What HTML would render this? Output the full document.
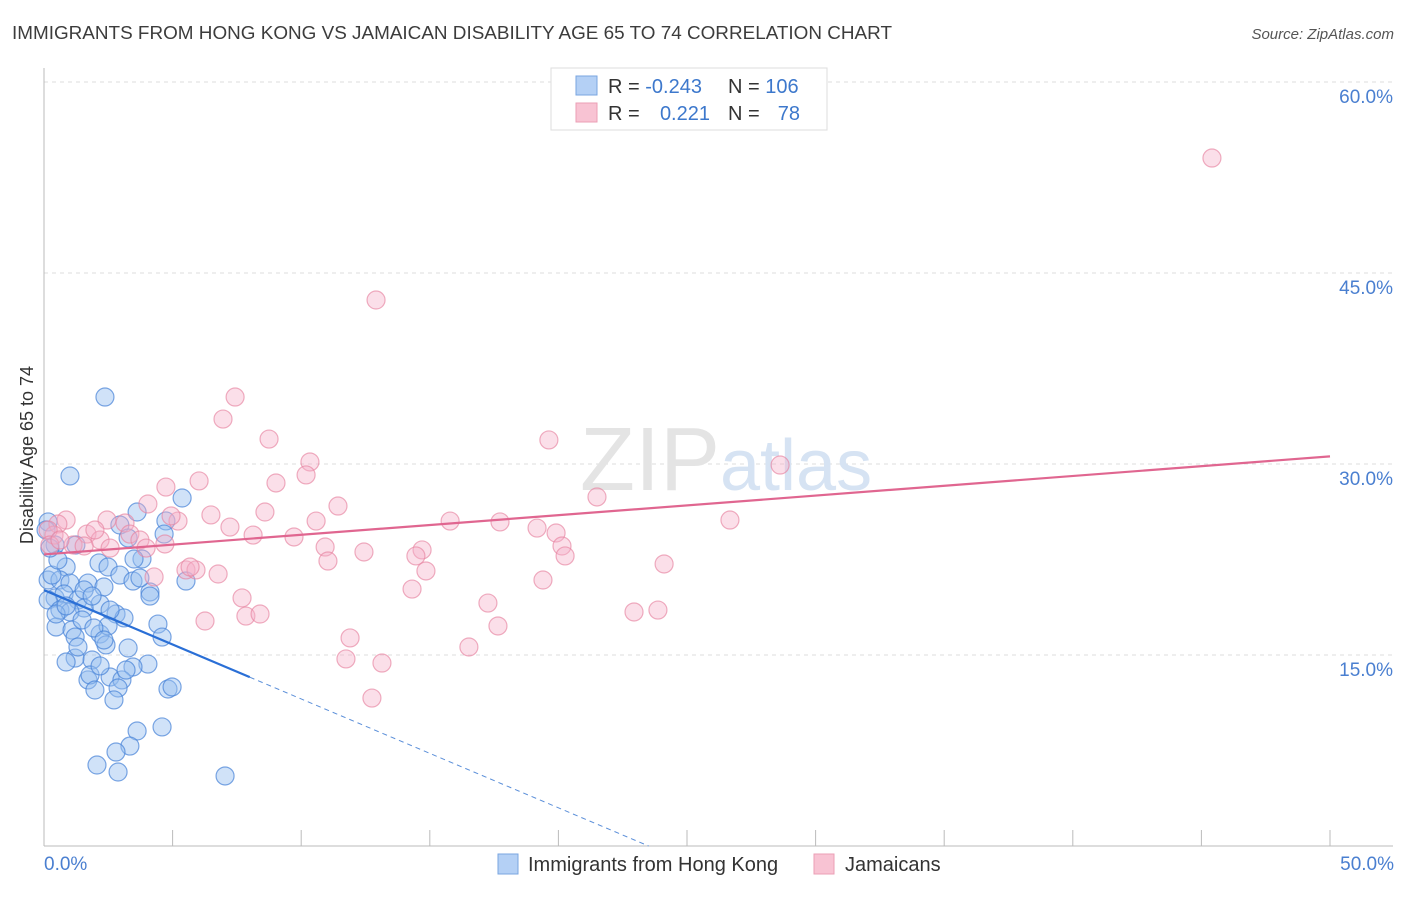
<!DOCTYPE html>
<html><head><meta charset="utf-8"><style>
body{margin:0;background:#fff;font-family:"Liberation Sans",sans-serif;}
svg text{font-family:"Liberation Sans",sans-serif;}
</style></head><body>
<svg width="1406" height="892" viewBox="0 0 1406 892">
<text x="12" y="39" font-size="18" textLength="880" lengthAdjust="spacingAndGlyphs" fill="#3c3c3c">IMMIGRANTS FROM HONG KONG VS JAMAICAN DISABILITY AGE 65 TO 74 CORRELATION CHART</text>
<text x="1394" y="39" font-size="15" fill="#555" font-style="italic" text-anchor="end">Source: ZipAtlas.com</text>
<g id="grid"></g>
<text x="720" y="490" font-size="90" fill="#e4e4e4" text-anchor="end" font-family="Liberation Serif">ZIP</text>
<text x="720" y="490" font-size="72" fill="#d6e3f3">atlas</text>
<g id="marks"></g>
<text transform="translate(33,455) rotate(-90)" font-size="18" fill="#333" text-anchor="middle">Disability Age 65 to 74</text>
<text x="44" y="870" font-size="19" fill="#4a7fd0">0.0%</text>
<text x="1394" y="870" font-size="19" fill="#4a7fd0" text-anchor="end">50.0%</text>
<g>
<rect x="551" y="68" width="276" height="62" fill="#fff" stroke="#ddd"/>
<rect x="576" y="76" width="21" height="19" fill="#b4d0f5" stroke="#7aa6e0"/>
<rect x="576" y="103" width="21" height="19" fill="#f8c3d3" stroke="#eb9fb6"/>
<text x="608" y="93" font-size="20" fill="#333">R = <tspan fill="#3d78cc">-0.243</tspan></text>
<text x="728" y="93" font-size="20" fill="#333">N = <tspan fill="#3d78cc">106</tspan></text>
<text x="608" y="120" font-size="20" fill="#333">R = </text>
<text x="710" y="120" font-size="20" fill="#3d78cc" text-anchor="end">0.221</text>
<text x="728" y="120" font-size="20" fill="#333">N = </text>
<text x="800" y="120" font-size="20" fill="#3d78cc" text-anchor="end">78</text>
</g>
<g>
<rect x="498" y="854" width="20" height="20" fill="#b4d0f5" stroke="#7aa6e0"/>
<text x="528" y="871" font-size="20" fill="#333">Immigrants from Hong Kong</text>
<rect x="814" y="854" width="20" height="20" fill="#f8c3d3" stroke="#eb9fb6"/>
<text x="845" y="871" font-size="20" fill="#333">Jamaicans</text>
</g>
</svg>
<script>
const yTicks=[15,30,45,60];
const yTickLabels=["15.0%","30.0%","45.0%","60.0%"];
const xTicks=[0,5,10,15,20,25,30,35,40,45,50];
const blueX=[2.37,1.01,5.37,4.74,3.62,2.95,4.67,3.27,0.16,0.43,1.24,3.81,3.5,2.14,0.86,2.49,2.95,0.16,0.62,1.01,1.71,2.33,3.46,5.52,4.12,4.12,0.43,0.78,1.32,2.18,1.56,2.8,3.11,0.47,1.09,2.18,2.49,4.43,4.59,1.21,2.41,3.27,1.21,1.87,4.04,3.46,0.86,2.57,3.03,1.71,2.88,4.82,4.98,1.79,2.18,2.72,3.62,4.59,3.34,2.8,2.06,2.88,7.04,0.31,0.16,0.62,1.01,1.48,1.94,2.33,0.47,1.56,1.87,2.57,0.86,1.32,3.19,1.98,3.73,0.54,0.08,0.23];
const blueY=[35.26,29.06,27.33,25.53,26.23,25.21,24.5,24.19,25.45,23.64,23.64,22.54,22.54,22.23,21.91,21.91,21.28,20.89,20.89,20.65,20.65,20.34,20.81,20.81,19.95,19.63,19.48,19.79,19.32,19.01,18.69,18.22,17.91,17.2,16.96,16.65,17.28,17.43,16.41,16.41,15.79,15.55,14.76,14.61,14.29,14.06,14.45,13.27,13.04,13.04,12.41,12.33,12.49,13.43,14.14,11.47,9.03,9.35,7.85,7.38,6.36,5.81,5.5,21.28,19.32,18.53,18.38,17.75,17.12,16.18,18.22,20.11,19.63,18.53,18.85,15.63,13.82,12.25,21.05,22.46,24.82,23.4];
const pinkX=[45.41,12.91,7.43,6.96,8.75,19.63,28.62,10.34,10.19,6.03,4.74,9.02,21.5,4.04,11.43,6.49,8.59,15.79,17.73,26.67,5.21,4.94,10.58,2.45,0.86,0.54,7.23,0.39,3.15,1.67,2.18,3.34,9.72,3.73,4.7,8.13,19.17,19.91,20.14,0.16,0.23,1.13,0.62,10.93,3.97,12.44,14.7,14.46,20.26,11.04,24.11,5.52,5.91,5.68,6.77,14.85,4.28,19.4,14.31,7.7,17.26,23.87,22.94,6.26,7.85,8.4,17.65,11.9,16.52,11.74,13.14,12.75,2.57,1.56,1.98];
const pinkY=[54.03,42.88,35.26,33.53,31.96,31.89,29.92,30.16,29.14,28.67,28.19,28.51,27.41,26.86,26.7,26.0,26.23,25.52,25.45,25.6,25.52,25.92,25.52,25.6,25.6,25.29,25.05,24.42,25.37,24.5,24.03,24.5,24.27,24.03,23.72,24.42,24.97,24.58,23.56,24.82,23.64,23.64,24.03,23.48,23.4,23.09,23.25,22.78,22.78,22.38,22.15,21.68,21.68,21.91,21.36,21.6,21.13,20.89,20.18,19.48,19.08,18.53,18.38,17.67,18.06,18.22,17.28,16.34,15.63,14.69,14.37,11.62,23.4,23.56,24.82];
const blueTrend=[20.1,-0.855];
const pinkTrend=[22.9,0.154];
const X0=44,X1=1330,Y0=846,YPX=12.733;
const sx=v=>X0+(X1-X0)*v/50;
const sy=v=>Y0-v*YPX;
const NS="http://www.w3.org/2000/svg";
function mk(t,a,p){const e=document.createElementNS(NS,t);for(const k in a)e.setAttribute(k,a[k]);p.appendChild(e);return e;}
const g=document.getElementById('grid');
yTicks.forEach((t,i)=>{
 const l=mk('line',{x1:44,x2:1393,y1:sy(t),y2:sy(t),stroke:'#ddd','stroke-dasharray':'4 4'},g);
 
 
 const tx=mk('text',{x:1393,y:sy(t)+21,'font-size':19,fill:'#4a7fd0','text-anchor':'end'},g);
 tx.textContent=yTickLabels[i];
 
 
});
const ya=mk('line',{x1:44,x2:44,y1:68,y2:846,stroke:'#bbb'},g);


const xa=mk('line',{x1:44,x2:1393,y1:846,y2:846,stroke:'#bbb'},g);


xTicks.forEach(t=>{
 const l=mk('line',{x1:sx(t),x2:sx(t),y1:830,y2:846,stroke:'#bbb'},g);
 
 
});
const m=document.getElementById('marks');
blueX.forEach((x,i)=>{
 const c=mk('circle',{cx:sx(x),cy:sy(blueY[i]),r:9,fill:'rgba(150,190,240,0.45)',stroke:'rgba(70,130,215,0.7)','stroke-width':1.2},m);
 
 
});
pinkX.forEach((x,i)=>{
 const c=mk('circle',{cx:sx(x),cy:sy(pinkY[i]),r:9,fill:'rgba(245,175,200,0.4)',stroke:'rgba(230,130,160,0.65)','stroke-width':1.2},m);
 
 
});
const bz=-blueTrend[0]/blueTrend[1];
const bs=mk('line',{x1:sx(0),y1:sy(blueTrend[0]),x2:sx(8),y2:sy(blueTrend[0]+blueTrend[1]*8),stroke:'#2a6fd6','stroke-width':2.2},m);


const bd=mk('line',{x1:sx(8),y1:sy(blueTrend[0]+blueTrend[1]*8),x2:sx(bz),y2:sy(0),stroke:'#5b8fd9','stroke-width':1,'stroke-dasharray':'5 4'},m);


const pl=mk('line',{x1:sx(0),y1:sy(pinkTrend[0]),x2:sx(50),y2:sy(pinkTrend[0]+pinkTrend[1]*50),stroke:'#e06690','stroke-width':2.2},m);


</script>
</body></html>
